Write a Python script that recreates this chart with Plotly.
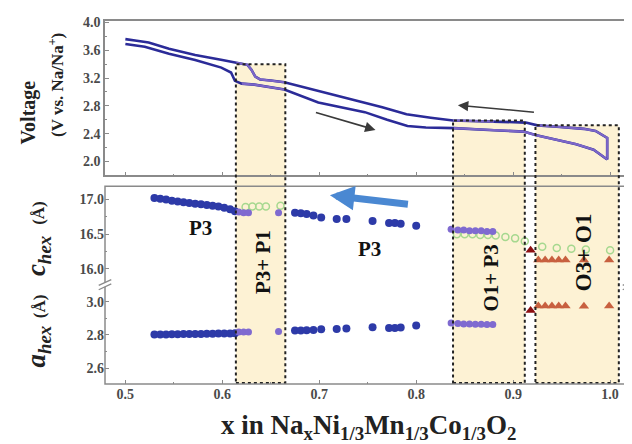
import plotly.graph_objects as go

# ---------------- data ----------------
# voltage profile (upper = charge, lower = discharge)
charge_x = [0.997, 0.997, 0.985, 0.973, 0.945, 0.925, 0.913, 0.880, 0.838, 0.815, 0.790,
            0.765, 0.740, 0.720, 0.699, 0.680, 0.664, 0.650, 0.639, 0.634, 0.630, 0.626,
            0.620, 0.6145, 0.600, 0.572, 0.545, 0.524, 0.510, 0.500]
charge_v = [2.03, 2.34, 2.44, 2.47, 2.50, 2.52, 2.56, 2.575, 2.59, 2.63, 2.68,
            2.78, 2.87, 2.94, 3.02, 3.09, 3.14, 3.165, 3.18, 3.22, 3.32, 3.39,
            3.41, 3.42, 3.46, 3.53, 3.62, 3.71, 3.74, 3.76]
discharge_x = [0.500, 0.520, 0.545, 0.572, 0.599, 0.609, 0.613, 0.620, 0.633, 0.664,
               0.699, 0.729, 0.747, 0.770, 0.791, 0.810, 0.839, 0.880, 0.911, 0.923,
               0.945, 0.965, 0.983, 0.997]
discharge_v = [3.69, 3.65, 3.55, 3.46, 3.35, 3.28, 3.16, 3.12, 3.105, 3.035,
               2.85, 2.76, 2.71, 2.60, 2.51, 2.49, 2.48, 2.45, 2.43, 2.38,
               2.31, 2.25, 2.17, 2.03]

# two-phase regions
region_x0 = [0.614, 0.838, 0.923]
region_x1 = [0.665, 0.912, 1.009]
region_top_v = [3.40, 2.59, 2.52]

# lattice parameters - P3 (blue)
p3_x = [0.530, 0.536, 0.542, 0.548, 0.554, 0.560, 0.566, 0.572, 0.578, 0.584, 0.590,
        0.596, 0.602, 0.608, 0.613, 0.675, 0.681, 0.687, 0.694, 0.702, 0.718, 0.728,
        0.755, 0.772, 0.778, 0.784, 0.800]
p3_c = [17.02, 17.01, 17.00, 16.98, 16.97, 16.96, 16.95, 16.94, 16.93, 16.92, 16.91,
        16.90, 16.88, 16.86, 16.83, 16.81, 16.80, 16.79, 16.77, 16.74, 16.72, 16.72,
        16.69, 16.66, 16.66, 16.65, 16.62]
p3_a = [2.802, 2.803, 2.803, 2.804, 2.804, 2.805, 2.805, 2.806, 2.806, 2.807, 2.807,
        2.808, 2.808, 2.809, 2.810, 2.826, 2.826, 2.828, 2.830, 2.834, 2.836, 2.838,
        2.846, 2.842, 2.842, 2.844, 2.856]
# P3 inside two-phase regions (purple)
p3b_x = [0.617, 0.622, 0.627, 0.658, 0.836, 0.843, 0.849, 0.855, 0.861, 0.867, 0.873, 0.879]
p3b_c = [16.82, 16.81, 16.81, 16.81, 16.57, 16.56, 16.56, 16.55, 16.55, 16.55, 16.54, 16.54]
p3b_a = [2.817, 2.818, 2.818, 2.820, 2.872, 2.868, 2.866, 2.866, 2.864, 2.864, 2.862, 2.862]
# P1 / O1 (green open circles, c only)
o1_x = [0.624, 0.631, 0.638, 0.645, 0.660, 0.842, 0.850, 0.858, 0.866, 0.874, 0.882,
        0.892, 0.902, 0.912, 0.930, 0.945, 0.960, 0.975, 1.000]
o1_c = [16.89, 16.90, 16.90, 16.90, 16.91, 16.50, 16.50, 16.50, 16.49, 16.49, 16.48,
        16.46, 16.44, 16.40, 16.32, 16.30, 16.29, 16.28, 16.27]
# O3 (triangles)
o3_first_x = [0.918]
o3_first_c = [16.27]
o3_first_a = [2.947]
o3_x = [0.926, 0.933, 0.940, 0.947, 0.954, 0.973, 0.999]
o3_c = [16.13, 16.13, 16.13, 16.13, 16.13, 16.13, 16.13]
o3_a = [2.974, 2.974, 2.974, 2.974, 2.974, 2.972, 2.974]

x_ticks = [0.5, 0.6, 0.7, 0.8, 0.9, 1.0]
v_ticks = [2.0, 2.4, 2.8, 3.2, 3.6, 4.0]
c_ticks = [16.0, 16.5, 17.0]
a_ticks = [2.6, 2.8, 3.0]

# ---------------- layout geometry ----------------
X_RANGE = [0.479, 1.0195]
V_RANGE = [1.80, 4.02]
C_RANGE = [15.774, 17.19]
A_RANGE = [2.505, 3.102]
TOP_DOM = [0.5745, 1.0]
C_DOM = [0.2737, 0.5447]
A_DOM = [0.0, 0.2737]
PLOT_W, PLOT_H, ML, MB = 524, 369, 97, 68

NAVY = "#2b2b98"
PURPLE = "#7c66c8"
SERIF = "Liberation Serif"
TICKCOL = "#4a4a4a"
LINECOL = "#8a8a8a"


def v_to_paper(v):
    return TOP_DOM[0] + (v - V_RANGE[0]) / (V_RANGE[1] - V_RANGE[0]) * (TOP_DOM[1] - TOP_DOM[0])


def px_x(p):
    return (p - ML) / PLOT_W


def px_y(p):
    return (444 - MB - p) / PLOT_H


def in_region(x):
    return any(x0 <= x <= x1 for x0, x1 in zip(region_x0, region_x1))


def bold_labels(vals):
    return [f"<b>{v:.1f}</b>" for v in vals]


fig = go.Figure()

# voltage curves
for xs, vs in [(charge_x, charge_v), (discharge_x, discharge_v)]:
    fig.add_trace(go.Scatter(x=xs, y=vs, mode="lines", line=dict(color=NAVY, width=2.6),
                             xaxis="x", yaxis="y", hoverinfo="skip"))
    vs_in = [v if in_region(x) else None for x, v in zip(xs, vs)]
    fig.add_trace(go.Scatter(x=xs, y=vs_in, mode="lines", line=dict(color=PURPLE, width=2.2),
                             xaxis="x", yaxis="y", hoverinfo="skip", connectgaps=False))

# lattice parameters
blue = "#2d3aa8"
fig.add_trace(go.Scatter(x=p3_x, y=p3_c, mode="markers", xaxis="x2", yaxis="y2",
                         marker=dict(color=blue, size=8, line=dict(width=0))))
fig.add_trace(go.Scatter(x=p3_x, y=p3_a, mode="markers", xaxis="x2", yaxis="y3",
                         marker=dict(color=blue, size=8, line=dict(width=0))))
fig.add_trace(go.Scatter(x=o1_x, y=o1_c, mode="markers", xaxis="x2", yaxis="y2",
                         marker=dict(color="rgba(0,0,0,0)", size=7,
                                     line=dict(color="#a6d88f", width=1.5))))
fig.add_trace(go.Scatter(x=p3b_x, y=p3b_c, mode="markers", xaxis="x2", yaxis="y2",
                         marker=dict(color="#7f6ad0", size=7, line=dict(width=0))))
fig.add_trace(go.Scatter(x=p3b_x, y=p3b_a, mode="markers", xaxis="x2", yaxis="y3",
                         marker=dict(color="#7f6ad0", size=7, line=dict(width=0))))
fig.add_trace(go.Scatter(x=o3_x, y=o3_c, mode="markers", xaxis="x2", yaxis="y2",
                         marker=dict(color="#c8603f", size=9, symbol="triangle-up")))
fig.add_trace(go.Scatter(x=o3_x, y=o3_a, mode="markers", xaxis="x2", yaxis="y3",
                         marker=dict(color="#c8603f", size=9, symbol="triangle-up")))
fig.add_trace(go.Scatter(x=o3_first_x, y=o3_first_c, mode="markers", xaxis="x2", yaxis="y2",
                         marker=dict(color="#8c0f12", size=9, symbol="triangle-up")))
fig.add_trace(go.Scatter(x=o3_first_x, y=o3_first_a, mode="markers", xaxis="x2", yaxis="y3",
                         marker=dict(color="#8c0f12", size=9, symbol="triangle-up")))

# shaded regions
for x0, x1, vt in zip(region_x0, region_x1, region_top_v):
    fig.add_shape(type="rect", xref="x", yref="paper", x0=x0, x1=x1, y0=0.003,
                  y1=v_to_paper(vt), fillcolor="#fdf2d4", layer="below",
                  line=dict(width=0))
    fig.add_shape(type="rect", xref="x", yref="paper", x0=x0, x1=x1, y0=0.003,
                  y1=v_to_paper(vt), fillcolor="rgba(0,0,0,0)", layer="above",
                  line=dict(color="#222222", width=2, dash="dot"))

# bottom panel frame
fig.add_shape(type="rect", xref="paper", yref="paper", x0=0, x1=1, y0=0, y1=C_DOM[1],
              line=dict(color=LINECOL, width=1.5), fillcolor="rgba(0,0,0,0)", layer="above")
# axis break marks
for xc in [0.0, 1.0]:
    fig.add_shape(type="rect", xref="paper", yref="paper", x0=xc - 0.004, x1=xc + 0.004,
                  y0=C_DOM[0] - 0.006, y1=C_DOM[0] + 0.006, fillcolor="white",
                  line=dict(width=0), layer="above")
    for dy in [-0.006, 0.006]:
        fig.add_shape(type="line", xref="paper", yref="paper",
                      x0=xc - 0.012, x1=xc + 0.012, y0=C_DOM[0] - 0.008 + dy,
                      y1=C_DOM[0] + 0.008 + dy, line=dict(color=LINECOL, width=1.3),
                      layer="above")

tickfont = dict(family=SERIF, size=14, color=TICKCOL)
common_x = dict(range=X_RANGE, ticks="inside", ticklen=4, tickcolor=LINECOL,
                tickvals=x_ticks, showgrid=False, zeroline=False,
                minor=dict(ticks="inside", ticklen=2, tickcolor=LINECOL, dtick=0.05, showgrid=False))

fig.update_layout(
    width=632, height=444,
    margin=dict(l=ML, r=11, t=7, b=MB),
    paper_bgcolor="white", plot_bgcolor="rgba(0,0,0,0)",
    showlegend=False,
    xaxis=dict(**common_x, domain=[0, 1], anchor="y", showticklabels=False,
               showline=True, mirror=True, linecolor=LINECOL, linewidth=1.5),
    yaxis=dict(domain=TOP_DOM, range=V_RANGE, anchor="x", tickvals=v_ticks,
               ticktext=bold_labels(v_ticks), ticks="inside", ticklen=4,
               tickcolor=LINECOL, tickfont=tickfont, showgrid=False, zeroline=False,
               showline=True, mirror=True, linecolor=LINECOL, linewidth=1.5,
               minor=dict(ticks="inside", ticklen=2, tickcolor=LINECOL, dtick=0.2)),
    xaxis2=dict(**common_x, domain=[0, 1], anchor="y3", showticklabels=True,
                ticktext=bold_labels(x_ticks), tickfont=dict(family=SERIF, size=14, color=TICKCOL),
                showline=False),
    yaxis2=dict(domain=C_DOM, range=C_RANGE, anchor="x2", tickvals=c_ticks,
                ticktext=bold_labels(c_ticks), ticks="inside", ticklen=4,
                tickcolor=LINECOL, tickfont=tickfont, showgrid=False, zeroline=False,
                showline=False, minor=dict(ticks="inside", ticklen=2, tickcolor=LINECOL, dtick=0.25)),
    yaxis3=dict(domain=A_DOM, range=A_RANGE, anchor="x2", tickvals=a_ticks,
                ticktext=bold_labels(a_ticks), ticks="inside", ticklen=4,
                tickcolor=LINECOL, tickfont=tickfont, showgrid=False, zeroline=False,
                showline=False, minor=dict(ticks="inside", ticklen=2, tickcolor=LINECOL, dtick=0.1)),
)

title_font = dict(family=SERIF, color="#222222")
C = dict(xanchor="center", yanchor="middle", showarrow=False, xref="paper", yref="paper")
ann = []
ann.append(dict(text="<b>Voltage</b>", x=px_x(20), y=px_y(100),
                textangle=-90, font=dict(**title_font, size=20), **C))
ann.append(dict(text="<b>(V vs. Na/Na<sup>+</sup>)</b>", x=px_x(48), y=px_y(72),
                textangle=-90, font=dict(**title_font, size=17), **C))
ann.append(dict(text="<b><i>c</i><sub><i>hex</i></sub></b>", x=px_x(30), y=px_y(246),
                textangle=-90, font=dict(**title_font, size=27), **C))
ann.append(dict(text="<b>(Å)</b>", x=px_x(31), y=px_y(202),
                textangle=-90, font=dict(**title_font, size=17), **C))
ann.append(dict(text="<b><i>a</i><sub><i>hex</i></sub></b>", x=px_x(30), y=px_y(338),
                textangle=-90, font=dict(**title_font, size=27), **C))
ann.append(dict(text="<b>(Å)</b>", x=px_x(31), y=px_y(297),
                textangle=-90, font=dict(**title_font, size=17), **C))
ann.append(dict(text="<b>x in Na<sub>x</sub>Ni<sub>1/3</sub>Mn<sub>1/3</sub>Co<sub>1/3</sub>O<sub>2</sub></b>",
                x=px_x(360), y=px_y(420), font=dict(**title_font, size=27), **C))
# phase labels
phase_font = dict(family=SERIF, color="#111111", size=21)
P = dict(xanchor="center", yanchor="middle", showarrow=False)
ann.append(dict(text="<b>P3</b>", xref="x2", yref="y2", x=0.577, y=16.59, font=phase_font, **P))
ann.append(dict(text="<b>P3</b>", xref="x2", yref="y2", x=0.752, y=16.29, font=phase_font, **P))
ann.append(dict(text="<b>P3+ P1</b>", xref="x2", yref="paper", x=0.642, y=px_y(252),
                textangle=-90, font=phase_font, **P))
ann.append(dict(text="<b>O1+ P3</b>", xref="x2", yref="paper", x=0.877, y=px_y(268),
                textangle=-90, font=phase_font, **P))
ann.append(dict(text="<b>O3+ O1</b>", xref="x2", yref="paper", x=0.972, y=px_y(242),
                textangle=-90, font=dict(family=SERIF, color="#111111", size=23), **P))
# arrows
ann.append(dict(x=0.843, y=2.81, ax=0.923, ay=2.707, xref="x", yref="y", axref="x", ayref="y",
                text="", showarrow=True, arrowhead=2, arrowsize=1.3, arrowwidth=1.6, arrowcolor="#3a3a3a"))
ann.append(dict(x=0.758, y=2.455, ax=0.695, ay=2.71, xref="x", yref="y", axref="x", ayref="y",
                text="", showarrow=True, arrowhead=2, arrowsize=1.3, arrowwidth=1.6, arrowcolor="#3a3a3a"))
ann.append(dict(x=0.711, y=17.06, ax=0.793, ay=16.93, xref="x2", yref="y2", axref="x2", ayref="y2",
                text="", showarrow=True, arrowhead=2, arrowsize=0.7, arrowwidth=7, arrowcolor="#4a88d2"))
fig.update_layout(annotations=ann)

fig.write_html("out.html")
